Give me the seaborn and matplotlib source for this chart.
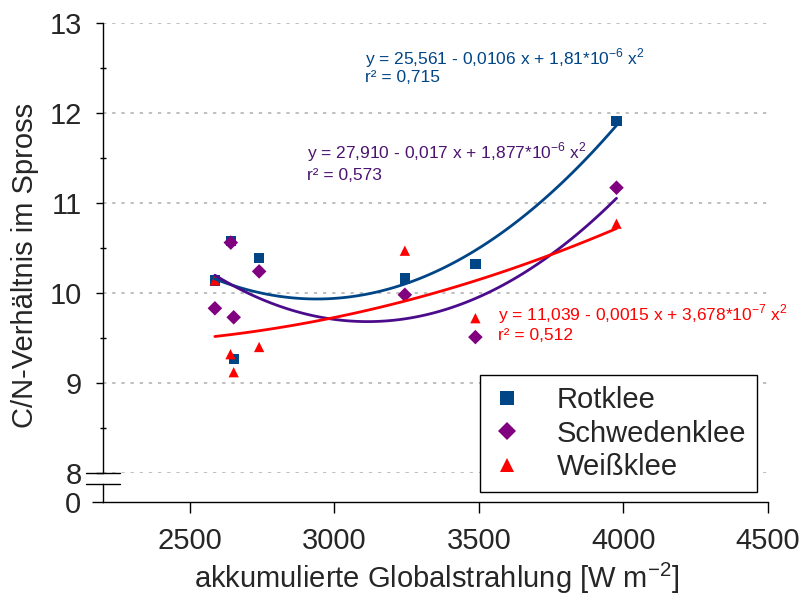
import numpy as np
import pandas as pd
import matplotlib
matplotlib.use("Agg")
import matplotlib.pyplot as plt
from matplotlib.lines import Line2D
from matplotlib.ticker import MultipleLocator, FixedLocator
import seaborn as sns

# Accumulated global radiation [W m-2] and shoot C/N ratio per clover species
x_rotklee = [2587, 2642, 2652, 2740, 3244, 3488, 3976]
y_rotklee = [10.14, 10.58, 9.27, 10.39, 10.16, 10.32, 11.91]

x_schwedenklee = [2587, 2642, 2652, 2740, 3244, 3488, 3976]
y_schwedenklee = [9.83, 10.56, 9.73, 10.24, 9.98, 9.51, 11.17]

x_weissklee = [2587, 2641, 2652, 2740, 3244, 3488, 3976]
y_weissklee = [10.14, 9.32, 9.12, 9.40, 10.47, 9.72, 10.77]

species = ["Rotklee", "Schwedenklee", "Weißklee"]
equations = [
    r"y = 25,561 - 0,0106 x + 1,81*10$^{\mathregular{-6}}$ x$^{\mathregular{2}}$",
    r"y = 27,910 - 0,017 x + 1,877*10$^{\mathregular{-6}}$ x$^{\mathregular{2}}$",
    r"y = 11,039 - 0,0015 x + 3,678*10$^{\mathregular{-7}}$ x$^{\mathregular{2}}$",
]
r_squared = ["r² = 0,715", "r² = 0,573", "r² = 0,512"]

x_ticks = [2500, 3000, 3500, 4000, 4500]
y_ticks = [8, 9, 10, 11, 12, 13]

point_colors = {"Rotklee": "#004586", "Schwedenklee": "#800080", "Weißklee": "#FF0000"}
line_colors = {"Rotklee": "#004586", "Schwedenklee": "#4B0C8C", "Weißklee": "#FF0000"}
text_colors = {"Rotklee": "#004586", "Schwedenklee": "#4B1470", "Weißklee": "#FF0000"}
markers = {"Rotklee": "s", "Schwedenklee": "D", "Weißklee": "^"}

df = pd.DataFrame({
    "Strahlung": x_rotklee + x_schwedenklee + x_weissklee,
    "CN": y_rotklee + y_schwedenklee + y_weissklee,
    "Art": [species[0]] * len(x_rotklee) + [species[1]] * len(x_schwedenklee)
           + [species[2]] * len(x_weissklee),
})

sns.set_theme(style="white")
plt.rcParams["font.family"] = ["Liberation Sans", "DejaVu Sans"]
plt.rcParams["mathtext.fontset"] = "custom"
plt.rcParams["mathtext.rm"] = "Liberation Sans"

W, H = 801, 601
BIG = 21
fig = plt.figure(figsize=(W / 100, H / 100), dpi=100)

def fx(px):
    return px / W

def fy(py):
    return 1 - py / H

# upper panel (8..13) and a short lower panel holding the zero of the broken axis
ax = fig.add_axes([fx(103), fy(473), fx(768) - fx(103), fy(23) - fy(473)])
axb = fig.add_axes([fx(103), fy(502), fx(768) - fx(103), fy(484) - fy(502)], sharex=ax)

sns.scatterplot(data=df, x="Strahlung", y="CN", hue="Art", style="Art",
                palette=point_colors, markers=markers, s=55, linewidth=0,
                ax=ax, zorder=3)

sx = {"Rotklee": x_rotklee, "Schwedenklee": x_schwedenklee, "Weißklee": x_weissklee}
sy = {"Rotklee": y_rotklee, "Schwedenklee": y_schwedenklee, "Weißklee": y_weissklee}
for art in species:
    sns.regplot(x=np.array(sx[art], float), y=np.array(sy[art], float), order=2,
                ci=None, scatter=False, truncate=True, color=line_colors[art],
                line_kws=dict(lw=2.0, zorder=4), ax=ax)

ax.set_xlim(2200, 4500)
ax.set_ylim(8, 13)
ax.set_xlabel("")
ax.set_ylabel("")
ax.yaxis.set_major_locator(FixedLocator(y_ticks))
ax.yaxis.set_minor_locator(MultipleLocator(0.5))
ax.tick_params(axis="x", bottom=False, labelbottom=False)
ax.tick_params(axis="y", which="major", direction="out", length=5, width=1,
               color="black", labelsize=BIG, pad=10, left=True)
ax.tick_params(axis="y", which="minor", direction="inout", length=5, width=1,
               color="black", left=True)
ax.grid(axis="y", which="major", linestyle=(0, (2, 3.5)), color="#b4b4b4", lw=1.2)
ax.grid(axis="x", visible=False)
for s in ["top", "right", "bottom"]:
    ax.spines[s].set_visible(False)
ax.spines["left"].set_color("black")
ax.spines["left"].set_linewidth(1)

axb.set_ylim(0, 1)
axb.set_yticks([0])
axb.set_yticklabels(["0"])
axb.set_xticks(x_ticks)
axb.set_xticklabels([str(t) for t in x_ticks])
axb.tick_params(axis="both", direction="out", length=8, width=1, color="black",
                labelsize=BIG, left=True, bottom=True)
axb.tick_params(axis="x", pad=10)
axb.tick_params(axis="y", pad=8)
for s in ["top", "right"]:
    axb.spines[s].set_visible(False)
for s in ["left", "bottom"]:
    axb.spines[s].set_color("black")
    axb.spines[s].set_linewidth(1)
axb.grid(False)
axb.patch.set_alpha(0)

# axis break marks
for py in (473, 484):
    fig.add_artist(Line2D([fx(86), fx(120)], [fy(py), fy(py)], color="black", lw=1))

# fitted equations
eq_pos = {"Rotklee": (3105, 12.61, 12.39), "Schwedenklee": (2905, 11.56, 11.31),
          "Weißklee": (3566, 9.76, 9.53)}
for art, eq, r2 in zip(species, equations, r_squared):
    xt, y1, y2 = eq_pos[art]
    ax.text(xt, y1, eq, color=text_colors[art], fontsize=12.5, va="center", ha="left", zorder=5)
    ax.text(xt, y2, r2, color=text_colors[art], fontsize=12.5, va="center", ha="left", zorder=5)

leg = ax.legend(loc="upper left", bbox_to_anchor=(fx(480), fy(375)),
                bbox_transform=fig.transFigure, fontsize=BIG, frameon=True,
                fancybox=False, edgecolor="black", framealpha=1,
                handlelength=1.1, handletextpad=1.15, labelspacing=0.2,
                borderpad=0.37, borderaxespad=0, markerscale=1.3)
leg.get_frame().set_linewidth(1)
leg.set_zorder(10)

fig.text(fx(25), fy(265), "C/N-Verhältnis im Spross", rotation=90,
         ha="center", va="center", fontsize=BIG)
fig.text(fx(437), fy(578), r"akkumulierte Globalstrahlung [W m$^{\mathregular{-2}}$]",
         ha="center", va="center", fontsize=BIG)

fig.savefig("out.png", dpi=100)
